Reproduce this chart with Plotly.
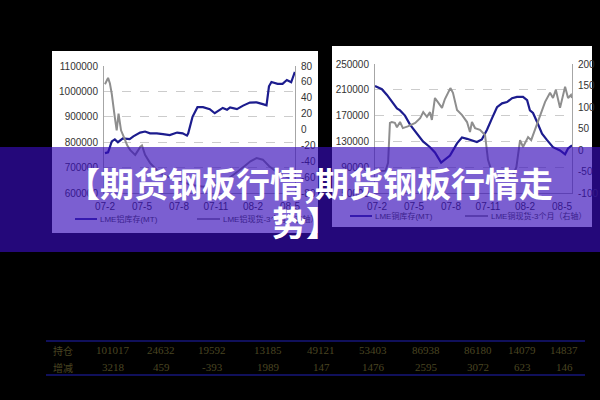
import plotly.graph_objects as go

# ---------------- data ----------------
month_labels = ["07-2", "07-5", "07-8", "07-11", "08-2", "08-5"]
month_ticks = [0, 3, 6, 9, 12, 15]

# Left chart: LME aluminium stocks (MT) and cash-3M spread (right axis)
al_stock_m = [0, 0.25, 0.55, 0.8, 1.05, 1.45, 2.0, 2.3, 2.85, 3.25, 3.65, 4.2, 4.7, 5.25,
              5.85, 6.3, 6.65, 6.75, 7.1, 7.5, 7.95, 8.5, 8.9, 9.3, 9.55, 9.9, 10.15, 10.7,
              11.2, 11.75, 12.3, 12.8, 13.1, 13.3, 13.5, 14.0, 14.4, 14.75, 15.1, 15.4]
al_stock = [757000, 760000, 803000, 811000, 800000, 815000, 812000, 823000, 838000, 842000,
            835000, 835000, 832000, 828000, 838000, 835000, 826000, 835000, 900000, 938000,
            938000, 930000, 914000, 925000, 935000, 928000, 937000, 930000, 944000, 956000,
            957000, 950000, 945000, 1020000, 1037000, 1030000, 1030000, 1045000, 1036000, 1077000]

al_spread_m = [0, 0.25, 0.4, 0.55, 0.8, 0.95, 1.1, 1.3, 1.6, 1.8, 2.05, 2.45, 2.7, 2.85, 3.0,
               3.25, 3.65, 4.2, 4.7, 5.5, 6.3, 7.0, 8.0, 9.0, 10.0, 11.0, 11.8, 12.3, 12.8,
               13.3, 13.8, 14.5, 15.4]
al_spread = [57, 65, 58, 45, 15, -1, 20, -1, -12, -20, -26, -32, -26, -22, -20,
             -32, -42, -51, -57, -62, -66, -70, -72, -68, -62, -50, -40, -36, -38,
             -46, -52, -58, -64]

# Right chart: LME copper stocks (MT) and cash-3M spread (right axis)
cu_stock_m = [-0.16, 0.4, 0.81, 1.22, 1.62, 1.87, 2.27, 2.68, 3.24, 3.73, 4.3, 4.7, 5.2, 5.92,
              6.49, 6.89, 7.3, 7.7, 8.1, 8.5, 8.92, 9.33, 9.73, 10.14, 10.54, 10.95, 11.35,
              11.84, 12.17, 12.4, 12.65, 12.98, 13.38, 13.79, 14.27, 14.84, 15.25, 15.49, 15.81]
cu_stock = [216000, 211000, 202000, 192000, 181000, 178000, 170000, 156000, 143000, 130000,
            121000, 113000, 97000, 108000, 127000, 136000, 134000, 131000, 129000, 133000,
            148000, 166000, 183000, 189000, 191000, 197000, 199000, 199000, 194000, 178000,
            174000, 160000, 142000, 132000, 121000, 116000, 110000, 119000, 124000]

cu_spread_m = [-0.16, 0.7, 0.9, 1.05, 1.2, 1.45, 1.62, 1.87, 2.1, 2.5, 3.1, 3.5, 3.75, 4.05,
               4.3, 4.45, 4.7, 4.95, 5.27, 5.5, 5.95, 6.16, 6.49, 6.9, 7.3, 7.54, 7.7, 7.95,
               8.35, 8.76, 9.0, 9.33, 9.8, 10.5, 11.0, 11.3, 11.6, 11.84, 12.25, 12.5, 12.82,
               13.22, 13.63, 14.03, 14.27, 14.5, 14.84, 15.25, 15.49, 15.73, 15.81]
cu_spread = [-50, -48, -30, 63, 65, 63, 53, 65, 51, 55, 63, 74, 88, 77,
             88, 70, 121, 110, 98, 118, 144, 133, 93, 81, 65, 42, 65, 51,
             47, 35, -23, -53, -62, -65, -60, -40, 23, 7, 30, 23, 47,
             77, 112, 133, 121, 140, 98, 147, 121, 128, 121]

al_left_ticks = [600000, 700000, 800000, 900000, 1000000, 1100000]
al_right_ticks = [-80, -60, -40, -20, 0, 20, 40, 60, 80]
cu_left_ticks = [50000, 90000, 130000, 170000, 210000, 250000]
cu_right_ticks = [-100, -50, 0, 50, 100, 150, 200]

table_labels = ["持仓", "增减"]
hold_vals = ["101017", "24632", "19592", "13185", "49121", "53403", "86938", "86180", "14079", "14837"]
change_vals = ["3218", "459", "-393", "1989", "147", "1476", "2595", "3072", "623", "146"]

title_line1 = "【期货钢板行情,期货钢板行情走"
title_line2 = "势】"

# ---------------- styling helpers ----------------
W, H = 600, 400
def px(x):
    return x / W
def py(y):
    return 1 - y / H

BLUE = "#1c1c8e"
GRAY = "#8e8e8e"
AXIS = "#a6a6a6"
GRID = "#cccccc"
TICKFONT = dict(family="Liberation Sans, Arial, sans-serif", size=10, color="#333333")

fig = go.Figure()
fig.add_trace(go.Scatter(x=al_stock_m, y=al_stock, mode="lines", line=dict(color=BLUE, width=2.2),
                         xaxis="x", yaxis="y", showlegend=False))
fig.add_trace(go.Scatter(x=al_spread_m, y=al_spread, mode="lines", line=dict(color=GRAY, width=2),
                         xaxis="x", yaxis="y2", showlegend=False))
fig.add_trace(go.Scatter(x=cu_stock_m, y=cu_stock, mode="lines", line=dict(color=BLUE, width=2.2),
                         xaxis="x2", yaxis="y3", showlegend=False))
fig.add_trace(go.Scatter(x=cu_spread_m, y=cu_spread, mode="lines", line=dict(color=GRAY, width=2),
                         xaxis="x2", yaxis="y4", showlegend=False))

def xax(domain, rng, anchor):
    return dict(domain=domain, range=rng, anchor=anchor, tickvals=month_ticks, ticktext=month_labels,
                showgrid=False, zeroline=False, showline=True, linecolor=AXIS, linewidth=1,
                ticks="outside", ticklen=4, tickcolor="rgba(0,0,0,0)", tickfont=TICKFONT,
                fixedrange=True, automargin=False)

def yax(domain, rng, anchor, vals, grid, side="left", overlay=None):
    d = dict(range=rng, anchor=anchor, tickvals=vals, ticktext=[str(v) for v in vals],
             showgrid=grid, gridcolor=GRID, griddash="dash", gridwidth=1, zeroline=False,
             showline=True, linecolor=AXIS, linewidth=1, side=side,
             ticks="outside", ticklen=3, tickcolor="rgba(0,0,0,0)", tickfont=TICKFONT,
             fixedrange=True, automargin=False)
    if overlay:
        d["overlaying"] = overlay
    else:
        d["domain"] = domain
    return d

fig.update_layout(
    width=W, height=H, margin=dict(l=0, r=0, t=0, b=0, pad=0, autoexpand=False),
    paper_bgcolor="black", plot_bgcolor="rgba(0,0,0,0)", showlegend=False,
    xaxis=xax([px(104), px(295)], [-0.08, 15.41], "y"),
    yaxis=yax([py(193), py(66)], [600000, 1100000], "x", al_left_ticks, True),
    yaxis2=yax(None, [-80, 80], "x", al_right_ticks, False, side="right", overlay="y"),
    xaxis2=xax([px(375), px(572)], [-0.16, 15.81], "y3"),
    yaxis3=yax([py(193), py(64)], [50000, 250000], "x2", cu_left_ticks, True),
    yaxis4=yax(None, [-100, 200], "x2", cu_right_ticks, False, side="right", overlay="y3"),
)

shapes = []
# white chart panels
shapes.append(dict(type="rect", xref="paper", yref="paper", x0=px(52), x1=px(318), y0=py(233), y1=py(51),
                   fillcolor="white", line=dict(width=0), layer="below"))
shapes.append(dict(type="rect", xref="paper", yref="paper", x0=px(332), x1=px(592), y0=py(227), y1=py(46),
                   fillcolor="white", line=dict(width=0), layer="below"))
# legend line samples
for x0, x1, yy, col in [(75, 97, 219, BLUE), (197, 220, 219, GRAY), (350, 372, 216, BLUE), (465, 488, 216, GRAY)]:
    shapes.append(dict(type="line", xref="paper", yref="paper", x0=px(x0), x1=px(x1), y0=py(yy), y1=py(yy),
                       line=dict(color=col, width=1.8), layer="above"))
# purple banner
shapes.append(dict(type="rect", xref="paper", yref="paper", x0=0, x1=1, y0=py(252), y1=py(147),
                   fillcolor="rgba(55,12,185,0.66)", line=dict(width=0), layer="above"))
# table rules
for yy in (341, 375):
    shapes.append(dict(type="line", xref="paper", yref="paper", x0=px(46), x1=px(585), y0=py(yy), y1=py(yy),
                       line=dict(color="#16167a", width=1.5), layer="above"))
fig.update_layout(shapes=shapes)

ann = []
LEG_COLOR = "rgb(58,32,140)"
LEGFONT = dict(family="Liberation Sans, Noto Sans CJK SC, sans-serif", size=8, color=LEG_COLOR)
for x0, yy, txt in [(98, 219, "LME铝库存(MT)"), (221, 219, "LME铝现货-3个月（右轴）"),
                    (373, 216, "LME铜库存(MT)"), (489, 216, "LME铜现货-3个月（右轴）")]:
    ann.append(dict(xref="paper", yref="paper", x=px(x0), y=py(yy), text=txt, showarrow=False,
                    xanchor="left", yanchor="middle", font=LEGFONT))
TITLEFONT = dict(family="Noto Sans CJK SC, sans-serif", size=34, color="white", weight="bold")
ann.append(dict(xref="paper", yref="paper", x=px(309), y=py(182), text=title_line1, showarrow=False,
                xanchor="center", yanchor="middle", font=TITLEFONT))
ann.append(dict(xref="paper", yref="paper", x=px(306), y=py(221), text=title_line2, showarrow=False,
                xanchor="center", yanchor="middle", font=TITLEFONT))

col_x = [113, 161, 212, 268, 321, 373, 426, 478, 522, 564]
TABFONT = dict(family="Liberation Serif, serif", size=11, color="#4b4622")
TABFONT_CJK = dict(family="Noto Sans CJK SC, serif", size=10, color="#4b4622")
for row_y, label, vals in [(350, table_labels[0], hold_vals), (367, table_labels[1], change_vals)]:
    ann.append(dict(xref="paper", yref="paper", x=px(63), y=py(row_y), text=label, showarrow=False,
                    xanchor="center", yanchor="middle", font=TABFONT_CJK))
    for cx, v in zip(col_x, vals):
        ann.append(dict(xref="paper", yref="paper", x=px(cx), y=py(row_y), text=v, showarrow=False,
                        xanchor="center", yanchor="middle", font=TABFONT))
fig.update_layout(annotations=ann)

fig.write_html("out.html", config={"displayModeBar": False},
               post_script="document.body.style.margin='0';document.body.style.background='black';")
